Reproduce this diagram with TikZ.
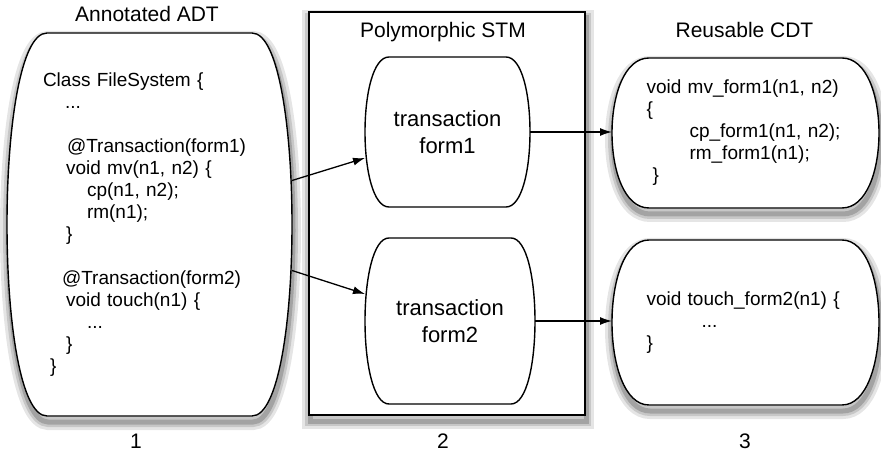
\documentclass[tikz,border=0pt]{standalone}
\usepackage{fontspec}
\setmainfont{Liberation Sans}
\usetikzlibrary{arrows.meta,calc,backgrounds}

% outline with bulging sides round a node: #1 options, #2 node, #3 inset of the flat top
\newcommand{\bulgeoutline}[3][]{%
  \draw[#1] ($(#2.north west)+(#3,0)$) -- ($(#2.north east)+(-#3,0)$)
    .. controls ($(#2.north east)+(#3/3,0)$) and ($(#2.south east)+(#3/3,0)$) .. ($(#2.south east)+(-#3,0)$)
    -- ($(#2.south west)+(#3,0)$)
    .. controls ($(#2.south west)+(-#3/3,0)$) and ($(#2.north west)+(-#3/3,0)$) .. cycle;}

\tikzset{
  box/.style={inner sep=0pt, outer sep=0pt},
  code/.style={box, font=\fontsize{19}{22}\selectfont, align=left},
  heading/.style={font=\fontsize{21}{26}\selectfont, anchor=base, inner sep=0pt},
  hull/.style={draw, line width=1.4pt, fill=white},
  halo/.style n args={2}{preaction={draw=black, draw opacity=#1, line width=#2,
    transform canvas={shift={(1pt,-6pt)}}}},
  shade/.style={halo={0.10}{16pt}, halo={0.13}{10pt}, halo={0.18}{5pt}},
  link/.style={line width=1.3pt, -{Latex[length=12pt,width=8pt]}},
}

\begin{document}
\begin{tikzpicture}[x=1pt, y=-1pt]
\useasboundingbox (0,0) rectangle (881,454);

% 1: annotated ADT
\node[heading] (adttitle) at (147,22) {Annotated ADT};
\node[code, minimum width=285pt, minimum height=383pt, text width=213pt] (adt) at (149.5,224.5) {%
Class FileSystem \{\\
\hspace*{22pt}...\\[22pt]
\hspace*{24pt}@Transaction(form1)\\
\hspace*{23pt}void mv(n1, n2) \{\\
\hspace*{44pt}cp(n1, n2);\\
\hspace*{44pt}rm(n1);\\
\hspace*{23pt}\}\\[22pt]
\hspace*{19pt}@Transaction(form2)\\
\hspace*{23pt}void touch(n1) \{\\
\hspace*{44pt}...\\
\hspace*{23pt}\}\\
\hspace*{7pt}\}};
\node[heading] (num1) at (136,448) {1};

% 2: polymorphic STM
\node[box, minimum width=276pt, minimum height=403pt] (stm) at (447,213.5) {};
\node[heading] (stmtitle) at (443,38) {Polymorphic STM};
\node[box, font=\fontsize{22}{27}\selectfont, align=center, minimum width=165pt, minimum height=150pt] (f1) at (447.5,132) {transaction\\form1};
\node[box, font=\fontsize{22}{27}\selectfont, align=center, minimum width=170pt, minimum height=166pt] (f2) at (450,321) {transaction\\form2};
\node[heading] (num2) at (443,448) {2};

% 3: reusable CDT
\node[heading] (cdttitle) at (744.5,38) {Reusable CDT};
\node[code, minimum width=267pt, minimum height=150pt, text width=198pt] (r1) at (745.5,133) {%
void mv\_form1(n1, n2)\\
\{\\
\hspace*{43pt}cp\_form1(n1, n2);\\
\hspace*{43pt}rm\_form1(n1);\\
\hspace*{6pt}\}};
\node[code, minimum width=267pt, minimum height=165pt, text width=198pt] (r2) at (745.5,322.5) {%
void touch\_form2(n1) \{\\
\hspace*{55pt}...\\
\}};
\node[heading] (num3) at (745,448) {3};

\begin{scope}[on background layer]
\bulgeoutline[hull, shade]{adt}{40}
\draw[hull, shade] (stm.north west) rectangle (stm.south east);
\bulgeoutline[hull]{f1}{24}
\bulgeoutline[hull]{f2}{24}
\bulgeoutline[hull, shade]{r1}{37}
\bulgeoutline[hull, shade]{r2}{37}
\end{scope}

\draw[link] ([yshift=44pt]adt.east) -- ([yshift=-26pt]f1.west);
\draw[link] ([yshift=-46pt]adt.east) -- ([yshift=27pt]f2.west);
\draw[link] (f1.east) -- (f1.east -| r1.west);
\draw[link] (f2.east) -- (f2.east -| r2.west);
\end{tikzpicture}
\end{document}
